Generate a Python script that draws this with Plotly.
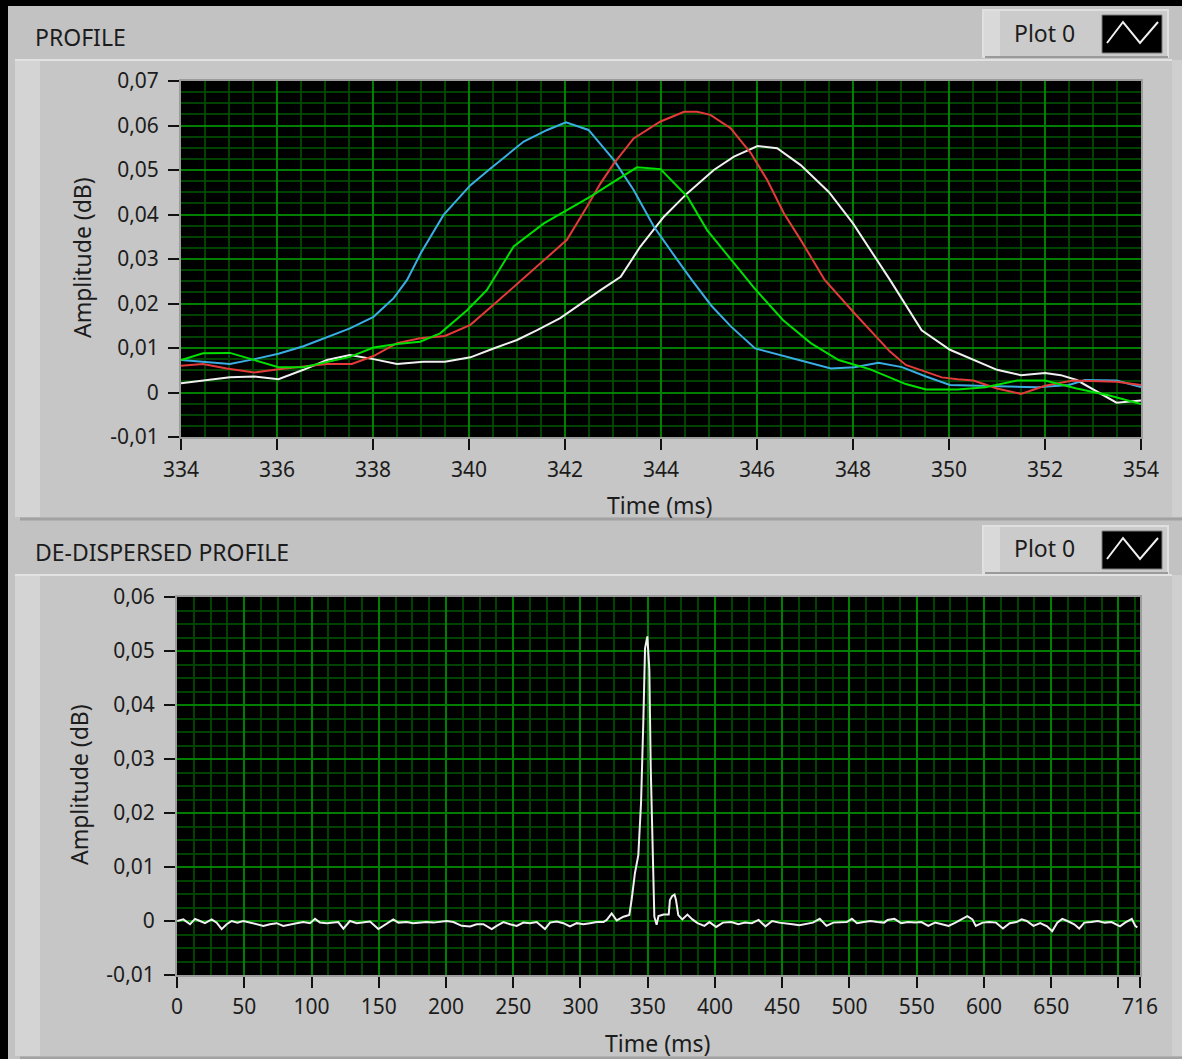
import plotly.graph_objects as go

W, H = 1182, 1059

# ---------------- DATA ----------------
# Top panel: PROFILE (four frequency channels)
time_blue = [334.0, 334.46, 335.02, 335.53, 336.03, 336.55, 337.04, 337.52, 338.01, 338.43, 338.71, 339.0,
             339.47, 340.03, 340.41, 341.14, 341.63, 342.02, 342.49, 343.02, 343.43, 343.85, 344.34, 344.64,
             345.05, 345.46, 345.96, 346.87, 347.54, 348.03, 348.53, 349.02, 349.52, 350.02, 351.0, 351.83,
             352.5, 352.83, 353.49, 354.0]
amp_blue = [0.0073, 0.0069, 0.0064, 0.0075, 0.0087, 0.0104, 0.0124, 0.0144, 0.0170, 0.0212, 0.0253, 0.0314,
            0.0399, 0.0466, 0.0500, 0.0564, 0.0590, 0.0607, 0.0590, 0.0522, 0.0455, 0.0373, 0.0298, 0.0253,
            0.0195, 0.0148, 0.0099, 0.0073, 0.0054, 0.0057, 0.0067, 0.0057, 0.0036, 0.0017, 0.0015, 0.0012,
            0.0017, 0.0028, 0.0027, 0.0012]

time_red = [334.0, 334.46, 334.95, 335.53, 336.03, 336.55, 337.04, 337.56, 338.01, 338.5, 338.98, 339.5,
            340.03, 340.51, 340.86, 341.49, 342.04, 342.46, 342.74, 343.02, 343.43, 343.99, 344.48, 344.75,
            345.03, 345.45, 345.87, 346.21, 346.56, 346.91, 347.41, 348.03, 348.77, 349.1, 349.85, 350.18,
            350.51, 351.0, 351.5, 352.0, 352.58, 353.49, 354.0]
amp_red = [0.0060, 0.0064, 0.0054, 0.0045, 0.0052, 0.0058, 0.0064, 0.0064, 0.0082, 0.0111, 0.0122, 0.0127,
           0.0152, 0.0197, 0.0230, 0.0290, 0.0343, 0.0418, 0.0470, 0.0515, 0.0571, 0.0609, 0.0631, 0.0631,
           0.0624, 0.0594, 0.0538, 0.0478, 0.0403, 0.0343, 0.0253, 0.0178, 0.0092, 0.0062, 0.0034, 0.0030,
           0.0027, 0.0009, -0.0003, 0.0015, 0.0027, 0.0024, 0.0017]

time_green = [334.0, 334.46, 335.02, 335.53, 336.03, 336.55, 337.04, 337.52, 338.01, 338.5, 338.98, 339.4,
              339.96, 340.37, 340.93, 341.56, 342.04, 342.53, 343.02, 343.5, 343.99, 344.55, 344.96, 345.52,
              345.94, 346.54, 347.12, 347.7, 348.36, 349.1, 349.52, 350.18, 350.76, 351.42, 352.0, 352.66,
              353.32, 354.0]
amp_green = [0.0073, 0.0088, 0.0089, 0.0073, 0.0057, 0.0057, 0.0069, 0.0080, 0.0101, 0.0109, 0.0114, 0.0133,
             0.0185, 0.0230, 0.0328, 0.0380, 0.0410, 0.0440, 0.0474, 0.0506, 0.0502, 0.0440, 0.0365, 0.0290,
             0.0235, 0.0163, 0.0111, 0.0073, 0.0052, 0.0019, 0.0007, 0.0007, 0.0012, 0.0027, 0.0027, 0.0009,
             -0.0006, -0.0026]

time_white = [334.0, 334.46, 335.02, 335.53, 336.03, 336.55, 337.04, 337.52, 338.01, 338.5, 339.05, 339.5,
              340.03, 340.51, 341.0, 341.42, 341.9, 342.74, 343.16, 343.57, 344.06, 344.55, 345.1, 345.52,
              346.01, 346.42, 346.91, 347.5, 348.0, 348.77, 349.43, 350.02, 350.51, 351.0, 351.5, 352.0,
              352.33, 352.66, 353.49, 354.0]
amp_white = [0.0021, 0.0027, 0.0034, 0.0036, 0.0030, 0.0051, 0.0073, 0.0084, 0.0075, 0.0064, 0.0069, 0.0069,
             0.0079, 0.0099, 0.0118, 0.0140, 0.0167, 0.0230, 0.0260, 0.0328, 0.0395, 0.0448, 0.0500, 0.0530,
             0.0554, 0.0549, 0.0511, 0.0450, 0.0380, 0.0253, 0.0140, 0.0096, 0.0073, 0.0051, 0.0039, 0.0044,
             0.0039, 0.0028, -0.0023, -0.0018]

# Bottom panel: DE-DISPERSED PROFILE
time_dd = [0.2, 4.7, 9.7, 13.4, 17.1, 20.8, 25.8, 29.5, 33.2, 36.9, 40.7, 44.9, 49.3, 54.3, 59.2, 64.2,
           69.1, 74.1, 79.0, 84.0, 88.9, 93.9, 98.9, 102.6, 106.3, 111.3, 116.2, 119.9, 123.7, 128.6, 133.6,
           138.5, 143.5, 149.7, 153.4, 157.1, 160.8, 164.6, 170.8, 175.7, 180.7, 185.6, 190.6, 195.6, 200.5,
           205.5, 211.7, 217.9, 222.8, 227.8, 234.0, 237.7, 242.7, 247.6, 252.6, 257.5, 262.5, 267.4, 273.6,
           277.3, 282.3, 287.3, 292.2, 297.2, 302.1, 307.1, 312.0, 317.0, 319.5, 323.2, 326.9, 331.9, 336.3,
           338.0, 340.5, 343.0, 345.0, 346.7, 348.0, 349.7, 351.2, 352.2, 353.7, 354.9, 356.6, 358.0, 361.8,
           365.6, 366.5, 368.1, 369.9, 371.0, 372.7, 375.7, 379.5, 383.2, 387.0, 392.1, 395.9, 400.9, 405.9,
           412.3, 417.3, 422.3, 427.4, 432.4, 437.5, 442.5, 447.6, 452.6, 457.7, 462.7, 467.8, 472.8, 477.9,
           482.9, 487.9, 493.0, 498.0, 501.8, 505.6, 510.6, 515.7, 520.7, 525.8, 528.3, 533.4, 538.4, 543.4,
           548.5, 553.5, 558.6, 563.6, 568.7, 573.7, 578.8, 583.8, 587.6, 591.4, 593.9, 599.0, 604.0, 609.0,
           614.1, 619.1, 624.2, 628.0, 631.8, 636.8, 641.8, 646.9, 650.7, 654.5, 658.2, 662.0, 667.1, 670.8,
           674.6, 679.7, 684.7, 689.8, 694.8, 701.1, 704.9, 709.9, 712.5, 714.0]
amp_dd = [0.0, 0.0003, -0.0006, 0.0004, 0.0, -0.0004, 0.0003, -0.0003, -0.0015, -0.0006, 0.0, -0.0003,
          0.0, -0.0003, -0.0006, -0.0009, -0.0006, -0.0004, -0.0009, -0.0006, -0.0004, -0.0002, -0.0004,
          0.0004, -0.0003, -0.0004, -0.0003, -0.0002, -0.0014, 0.0, -0.0004, -0.0003, -0.0001, -0.0015,
          -0.0009, -0.0002, 0.0003, -0.0003, -0.0002, -0.0004, -0.0003, -0.0002, -0.0003, -0.0002, 0.0,
          -0.0002, -0.0009, -0.0010, -0.0006, -0.0006, -0.0015, -0.0009, -0.0002, -0.0006, -0.0009, -0.0003,
          -0.0004, -0.0002, -0.0015, -0.0003, -0.0001, -0.0004, -0.0010, -0.0004, -0.0006, -0.0004, -0.0002,
          -0.0002, 0.0002, 0.0014, 0.0001, 0.0008, 0.0011, 0.0039, 0.0089, 0.0122, 0.0218, 0.0367, 0.0505,
          0.0527, 0.0465, 0.0286, 0.0104, 0.0008, -0.0007, 0.0009, 0.0012, 0.0012, 0.0039, 0.0046, 0.0049,
          0.0039, 0.0011, 0.0003, 0.0012, 0.0003, -0.0004, -0.0009, -0.0002, -0.0011, -0.0003, -0.0002,
          -0.0006, -0.0003, -0.0004, 0.0002, -0.0010, 0.0, -0.0003, -0.0004, -0.0006, -0.0008, -0.0006,
          -0.0003, 0.0004, -0.0009, -0.0003, -0.0002, -0.0002, 0.0004, -0.0004, -0.0002, 0.0, -0.0002,
          -0.0003, 0.0002, 0.0004, -0.0004, -0.0002, -0.0003, -0.0002, -0.0009, -0.0003, -0.0006, -0.0009,
          -0.0003, 0.0004, 0.0009, 0.0003, -0.0009, -0.0003, -0.0002, -0.0003, -0.0014, -0.0004, -0.0002,
          0.0003, 0.0, -0.0009, -0.0004, -0.0010, -0.0019, -0.0003, 0.0004, 0.0, -0.0006, -0.0014, -0.0003,
          -0.0002, 0.0, -0.0003, -0.0002, -0.0010, -0.0003, 0.0004, -0.0009, -0.0012]

# Tick values / labels
top_xticks = [334, 336, 338, 340, 342, 344, 346, 348, 350, 352, 354]
top_xlabels = ["334", "336", "338", "340", "342", "344", "346", "348", "350", "352", "354"]
top_yticks = [0.07, 0.06, 0.05, 0.04, 0.03, 0.02, 0.01, 0.0, -0.01]
top_ylabels = ["0,07", "0,06", "0,05", "0,04", "0,03", "0,02", "0,01", "0", "-0,01"]
bot_xticks = [0, 50, 100, 150, 200, 250, 300, 350, 400, 450, 500, 550, 600, 650, 700, 716]
bot_xlabels = ["0", "50", "100", "150", "200", "250", "300", "350", "400", "450", "500", "550", "600",
               "650", "", "716"]
bot_yticks = [0.06, 0.05, 0.04, 0.03, 0.02, 0.01, 0.0, -0.01]
bot_ylabels = ["0,06", "0,05", "0,04", "0,03", "0,02", "0,01", "0", "-0,01"]

# ---------------- STYLE ----------------
FONT = "Noto Sans"
TXT = "#1c1c1c"
MAJOR = "#007e00"
MINOR = "#004200"
C_BLUE, C_RED, C_GREEN, C_WHITE = "#3aaee2", "#e43a3a", "#00e000", "#f0f0f0"


def px(x):
    return x / W


def py(y):
    return 1 - y / H


fig = go.Figure()

for t, a, c in [(time_white, amp_white, C_WHITE), (time_blue, amp_blue, C_BLUE),
                (time_red, amp_red, C_RED), (time_green, amp_green, C_GREEN)]:
    fig.add_trace(go.Scatter(x=t, y=a, mode="lines", line=dict(color=c, width=2),
                             xaxis="x", yaxis="y", showlegend=False, hoverinfo="skip"))

fig.add_trace(go.Scatter(x=time_dd, y=amp_dd, mode="lines", line=dict(color=C_WHITE, width=2),
                         xaxis="x2", yaxis="y2", showlegend=False, hoverinfo="skip"))


def axis_common():
    return dict(showgrid=True, gridcolor=MAJOR, gridwidth=2, zeroline=False,
                showline=True, linecolor="#9c9c9c", linewidth=2, mirror=True,
                ticks="outside", ticklen=11, tickwidth=2, tickcolor="#111111",
                tickfont=dict(family=FONT, size=21, color=TXT), fixedrange=True)


MINW = 1.6
xa = axis_common()
xa.update(domain=[px(181), px(1141)], anchor="y", range=[334, 354], tickmode="array",
          tickvals=top_xticks, ticktext=top_xlabels, ticklabelstandoff=2,
          minor=dict(tickmode="linear", tick0=334, dtick=0.5, showgrid=True, gridcolor=MINOR,
                     gridwidth=MINW, ticks=""))
ya = axis_common()
ya.update(domain=[py(437), py(81)], anchor="x", range=[-0.01, 0.07], tickmode="array",
          tickvals=top_yticks, ticktext=top_ylabels, ticklabelstandoff=5,
          minor=dict(tickmode="linear", tick0=0, dtick=0.0025, showgrid=True, gridcolor=MINOR,
                     gridwidth=MINW, ticks=""))
xa2 = axis_common()
xa2.update(domain=[px(177), px(1140)], anchor="y2", range=[0, 716], tickmode="array",
           tickvals=bot_xticks, ticktext=bot_xlabels, ticklabelstandoff=1,
           minor=dict(tickmode="linear", tick0=0, dtick=12.5, showgrid=True, gridcolor=MINOR,
                      gridwidth=MINW, ticks=""))
ya2 = axis_common()
ya2.update(domain=[py(975), py(597)], anchor="x2", range=[-0.01, 0.06], tickmode="array",
           tickvals=bot_yticks, ticktext=bot_ylabels, ticklabelstandoff=5,
           minor=dict(tickmode="linear", tick0=0, dtick=0.0025, showgrid=True, gridcolor=MINOR,
                      gridwidth=MINW, ticks=""))

shapes = []


def rect(x0, y0, x1, y1, fill, line=None, lw=0, layer="below"):
    d = dict(type="rect", xref="paper", yref="paper", x0=px(x0), x1=px(x1), y0=py(y1), y1=py(y0),
             fillcolor=fill, layer=layer, line=dict(width=lw, color=line or fill))
    shapes.append(d)


def hline(x0, x1, y, color, w=2):
    shapes.append(dict(type="line", xref="paper", yref="paper", x0=px(x0), x1=px(x1), y0=py(y), y1=py(y),
                       line=dict(color=color, width=w), layer="below"))


# black frame of the screenshot
rect(0, 0, W, 6, "#000000")
rect(0, 0, 8, H, "#000000")

# panel bodies
for top, bottom in [(60, 517), (575, 1056)]:
    rect(15, top, 1172, bottom, "#c6c6c6")
    rect(15, top, 40, bottom, "#d4d4d4")
    hline(15, 1172, top, "#e2e2e2", 2)
    rect(1172, top, W, bottom, "#cfcfcf")
hline(20, W, 519, "#a2a2a2", 3)
hline(20, W, 1058, "#a2a2a2", 3)

# black plot areas (keep them black above the panel fills)
rect(181, 81, 1141, 437, "#000000")
rect(177, 597, 1140, 975, "#000000")

# plot-legend boxes "Plot 0"
for (y0, y1) in [(10, 57), (526, 573)]:
    rect(983, y0, 1168, y1, "#cbcbcb", line="#e0e0e0", lw=2)
    rect(984, y0 + 1, 1000, y1 - 1, "#d9d9d9")
    hline(985, 1168, y1, "#9a9a9a", 2)
    rect(1102, y0 + 5, 1162, y1 - 4, "#000000", line="#7a7a7a", lw=1)
    ya_, yb_ = y0 + 12, y1 - 14
    path = "M {} {} L {} {} L {} {} L {} {}".format(px(1107), py(yb_), px(1123), py(ya_),
                                                   px(1140), py(yb_), px(1158), py(ya_))
    shapes.append(dict(type="path", xref="paper", yref="paper", path=path,
                       line=dict(color="#f0f0f0", width=2), layer="above"))

annotations = []


def text(x, y, s, size=23, xanchor="left", angle=0):
    annotations.append(dict(x=px(x), y=py(y), xref="paper", yref="paper", text=s, showarrow=False,
                            xanchor=xanchor, yanchor="middle", textangle=angle,
                            font=dict(family=FONT, size=size, color=TXT)))


text(33, 37, "PROFILE")
text(33, 552, "DE-DISPERSED PROFILE")
text(1012, 33, "Plot 0")
text(1012, 548, "Plot 0")
text(660, 505, "Time (ms)", size=23, xanchor="center")
text(658, 1043, "Time (ms)", size=23, xanchor="center")
text(82, 258, "Amplitude (dB)", size=23, xanchor="center", angle=-90)
text(79, 785, "Amplitude (dB)", size=23, xanchor="center", angle=-90)

fig.update_layout(
    width=W, height=H, margin=dict(l=0, r=0, t=0, b=0, autoexpand=False),
    paper_bgcolor="#c2c2c2", plot_bgcolor="#000000",
    xaxis=xa, yaxis=ya, xaxis2=xa2, yaxis2=ya2,
    shapes=shapes, annotations=annotations, showlegend=False,
    font=dict(family=FONT, color=TXT),
)

fig.write_html("out.html", config={"displayModeBar": False})
